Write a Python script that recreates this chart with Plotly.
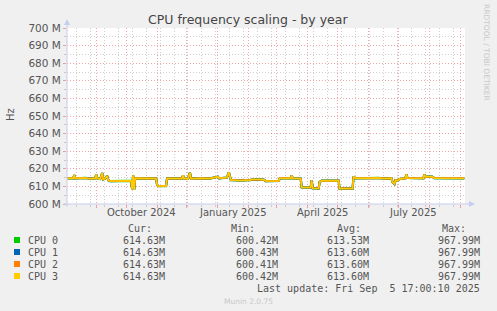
import plotly.graph_objects as go

# ---- data (values in MHz) ----
dates = [
    "2024-08-03", "2024-08-09", "2024-08-10", "2024-08-11", "2024-08-21", "2024-08-26",
    "2024-08-31", "2024-09-01", "2024-09-02", "2024-09-05", "2024-09-07", "2024-09-08",
    "2024-09-10", "2024-09-12", "2024-09-13", "2024-09-15", "2024-10-06", "2024-10-07",
    "2024-10-08", "2024-10-09", "2024-10-10", "2024-10-31", "2024-11-01", "2024-11-02",
    "2024-11-10", "2024-11-11", "2024-11-26", "2024-11-27", "2024-11-28", "2024-12-02",
    "2024-12-04", "2024-12-05", "2024-12-14", "2024-12-24", "2025-01-01", "2025-01-02",
    "2025-01-10", "2025-01-12", "2025-01-14", "2025-01-23", "2025-02-03", "2025-02-04",
    "2025-02-16", "2025-02-18", "2025-03-03", "2025-03-04", "2025-03-15", "2025-03-16",
    "2025-03-17", "2025-03-25", "2025-03-26", "2025-04-04", "2025-04-05", "2025-04-06",
    "2025-04-12", "2025-04-13", "2025-04-15", "2025-05-02", "2025-05-03", "2025-05-16",
    "2025-05-17", "2025-05-19", "2025-06-11", "2025-06-16", "2025-06-24", "2025-06-25",
    "2025-06-27", "2025-06-28", "2025-06-30", "2025-07-02", "2025-07-08", "2025-07-09",
    "2025-07-10", "2025-07-26", "2025-07-27", "2025-07-28", "2025-08-04", "2025-08-06",
    "2025-09-05",
]
cpu_base = [
    614.6, 614.6, 616.5, 614.6, 614.8, 614.4,
    614.6, 616.8, 614.6, 614.2, 617.6, 614.0,
    614.5, 616.0, 613.5, 613.0, 613.2, 608.5,
    616.3, 608.0, 614.6, 614.5, 611.0, 610.2,
    610.2, 614.5, 614.5, 616.3, 614.6, 614.3,
    617.8, 614.4, 614.6, 614.5, 615.5, 614.6,
    615.0, 618.0, 613.6, 613.4, 613.6, 614.0,
    613.8, 613.0, 613.1, 614.6, 614.6, 616.2,
    614.6, 614.4, 609.5, 609.4, 613.5, 609.0,
    608.8, 612.5, 613.2, 613.3, 608.8, 608.8,
    615.6, 614.6, 614.8, 614.5, 614.6, 612.5,
    611.4, 613.5, 613.2, 614.2, 614.6, 616.9,
    614.8, 614.6, 616.8, 615.5, 615.5, 614.7,
    614.6,
]
cpu0 = list(cpu_base)
cpu1 = list(cpu_base)
cpu2 = list(cpu_base)
cpu3 = list(cpu_base)

series_names = ["CPU 0", "CPU 1", "CPU 2", "CPU 3"]
series_colors = ["#00cc00", "#0066b3", "#ff8000", "#ffcc00"]
series_values = [cpu0, cpu1, cpu2, cpu3]
cur_vals = ["614.63M", "614.63M", "614.63M", "614.63M"]
min_vals = ["600.42M", "600.43M", "600.41M", "600.42M"]
avg_vals = ["613.53M", "613.60M", "613.60M", "613.60M"]
max_vals = ["967.99M", "967.99M", "967.99M", "967.99M"]

y_ticks = [600, 610, 620, 630, 640, 650, 660, 670, 680, 690, 700]
y_tick_labels = ["%d M" % v for v in y_ticks]
x_label_dates = ["2024-10-16", "2025-01-16", "2025-04-16", "2025-07-16"]
x_labels = ["October 2024", "January 2025", "April 2025", "July 2025"]

# ---- layout helpers (pixel -> paper) ----
W, H = 497, 311
L, R, T, B = 67, 465, 28, 204
def px(x):
    return (x - L) / (R - L)
def py(y):
    return (B - y) / (B - T)

fig = go.Figure()
widths = [2.3, 2.1, 1.9, 1.5]
for name, col, vals, w in zip(series_names, series_colors, series_values, widths):
    fig.add_trace(go.Scatter(x=dates, y=vals, name=name, mode="lines",
                             line=dict(color=col, width=w), showlegend=False))

RED = "rgba(230,120,120,0.65)"
GRAY = "rgba(175,175,175,0.6)"
DOT = "1px,2px"
fig.update_layout(
    width=W, height=H,
    margin=dict(l=L, r=W - R, t=T, b=H - B),
    paper_bgcolor="#f0f0f0", plot_bgcolor="#ffffff",
    font=dict(family="DejaVu Sans", size=10, color="#555555"),
    showlegend=False,
    xaxis=dict(type="date", range=["2024-08-02 17:00", "2025-09-05 17:00"],
               tickmode="linear", tick0="2024-08-01", dtick="M1",
               showticklabels=False, showgrid=True, gridcolor=RED, griddash=DOT,
               gridwidth=1, ticks="outside", ticklen=3, tickcolor=RED,
               minor=dict(tickmode="linear", tick0="2024-08-12", dtick=14 * 86400000,
                          showgrid=True, gridcolor=GRAY, griddash=DOT, gridwidth=1,
                          ticks="outside", ticklen=2, tickcolor=GRAY),
               zeroline=False, showline=False),
    yaxis=dict(range=[600, 700], tickmode="array", tickvals=y_ticks, ticktext=y_tick_labels,
               showgrid=True, gridcolor=RED, griddash=DOT, gridwidth=1,
               ticks="outside", ticklen=3, tickcolor=RED,
               tickfont=dict(size=10.5, color="#555555"),
               minor=dict(tickmode="linear", tick0=605, dtick=10, showgrid=True,
                          gridcolor=GRAY, griddash=DOT, gridwidth=1,
                          ticks="outside", ticklen=2, tickcolor=GRAY),
               zeroline=False, showline=False),
)

ann = []
# title
ann.append(dict(text="CPU frequency scaling - by year", x=px(248), y=py(19), xref="paper", yref="paper",
                showarrow=False, font=dict(size=12.5, color="#444444"), xanchor="center", yanchor="middle"))
# y title
ann.append(dict(text="Hz", x=px(10), y=py(114), xref="paper", yref="paper", textangle=-90,
                showarrow=False, font=dict(size=10, color="#555555"), xanchor="center", yanchor="middle"))
# watermark
ann.append(dict(text="RRDTOOL / TOBI OETIKER", x=px(487), y=py(53), xref="paper", yref="paper", textangle=90,
                showarrow=False, font=dict(size=7.5, color="#c8c8c8"), xanchor="center", yanchor="middle"))
# x tick labels
for d, lab in zip(x_label_dates, x_labels):
    ann.append(dict(text=lab, x=d, xref="x", y=py(212), yref="paper", showarrow=False,
                    font=dict(size=10, color="#555555"), xanchor="center", yanchor="middle"))

MONO = "DejaVu Sans Mono"
hdr_y = 228.5
for txt, xr in (("Cur:", 154), ("Min:", 257), ("Avg:", 363), ("Max:", 468)):
    ann.append(dict(text=txt, x=px(xr), y=py(hdr_y), xref="paper", yref="paper", showarrow=False,
                    font=dict(family=MONO, size=10, color="#555555"), xanchor="right", yanchor="middle"))

shapes = []
row_y = [240, 252, 264, 276]
for i, ry in enumerate(row_y):
    shapes.append(dict(type="rect", xref="paper", yref="paper", x0=px(14), x1=px(20),
                       y0=py(ry + 3), y1=py(ry - 3), fillcolor=series_colors[i], line=dict(width=0)))
    ann.append(dict(text=series_names[i], x=px(26), y=py(ry), xref="paper", yref="paper", showarrow=False,
                    font=dict(family=MONO, size=10, color="#555555"), xanchor="left", yanchor="middle"))
    for txt, xr in ((cur_vals[i], 167), (min_vals[i], 280), (avg_vals[i], 371), (max_vals[i], 482)):
        ann.append(dict(text=txt, x=px(xr), y=py(ry), xref="paper", yref="paper", showarrow=False,
                        font=dict(family=MONO, size=10, color="#555555"), xanchor="right", yanchor="middle"))

ann.append(dict(text="Last update: Fri Sep&nbsp;&nbsp;5 17:00:10 2025", x=px(482), y=py(288), xref="paper",
                yref="paper", showarrow=False, font=dict(family=MONO, size=10, color="#555555"),
                xanchor="right", yanchor="middle"))
ann.append(dict(text="Munin 2.0.75", x=px(248), y=py(301), xref="paper", yref="paper", showarrow=False,
                font=dict(size=7.5, color="#c8c8c8"), xanchor="center", yanchor="middle"))

# axis lines with arrows
AX = "#c8ccf0"
shapes.append(dict(type="line", xref="paper", yref="paper", x0=px(67), x1=px(67), y0=py(207), y1=py(24),
                   line=dict(color=AX, width=1)))
shapes.append(dict(type="line", xref="paper", yref="paper", x0=px(64), x1=px(470), y0=py(204), y1=py(204),
                   line=dict(color=AX, width=1)))
shapes.append(dict(type="path", xref="paper", yref="paper",
                   path="M %f,%f L %f,%f L %f,%f Z" % (px(64), py(25), px(70), py(25), px(67), py(19)),
                   fillcolor=AX, line=dict(width=0)))
shapes.append(dict(type="path", xref="paper", yref="paper",
                   path="M %f,%f L %f,%f L %f,%f Z" % (px(469), py(201), px(469), py(207), px(475), py(204)),
                   fillcolor=AX, line=dict(width=0)))

fig.update_layout(annotations=ann, shapes=shapes)
fig.write_html("out.html")
